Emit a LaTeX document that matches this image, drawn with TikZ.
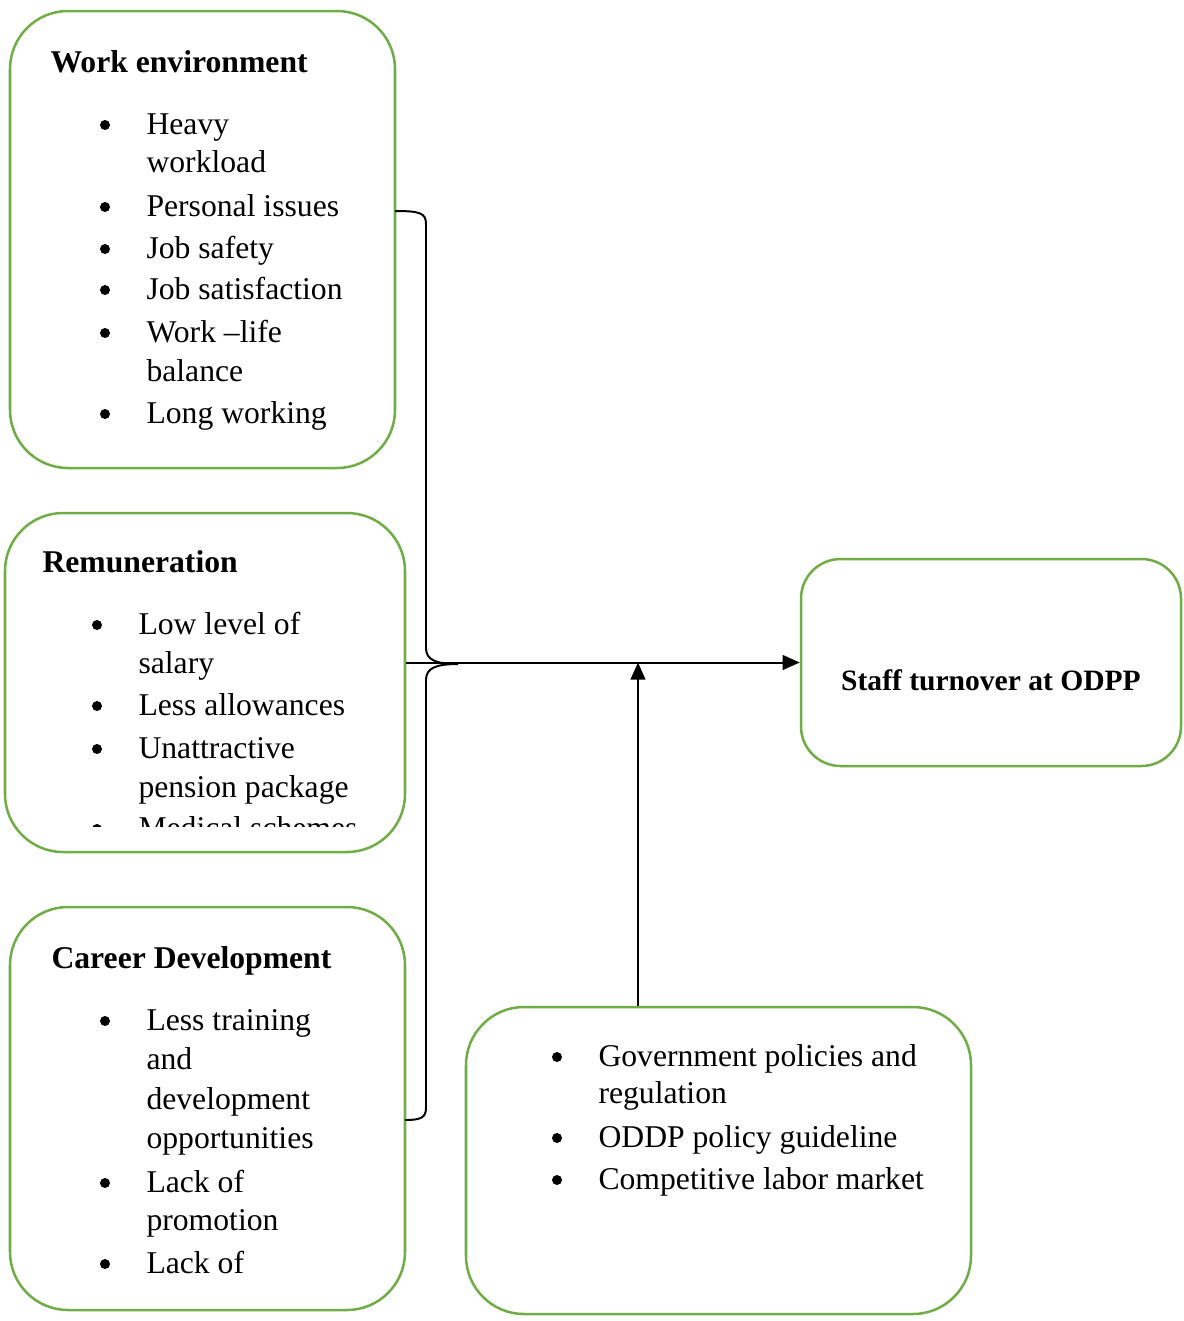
\documentclass[tikz,border=0pt]{standalone}
\usepackage{fontspec}
\setmainfont{Liberation Serif}
\usepackage{tikz}
\usetikzlibrary{arrows.meta,fit}

\definecolor{boxgreen}{RGB}{112,173,71}
\tikzset{
  factor/.style={draw=boxgreen, line width=0.95pt, rounded corners=22pt, inner sep=0pt},
  heading/.style={anchor=base west, inner sep=0pt, font=\fontsize{12}{14}\selectfont\bfseries},
  entry/.style={anchor=base west, inner sep=0pt},
  flow/.style={line width=0.75pt, -{Triangle[length=6.5pt,width=5.6pt]}},
  brace/.style={line width=0.75pt},
}

\begin{document}
\begin{tikzpicture}[x=0.379pt, y=-0.379pt, font=\fontsize{12}{14}\selectfont]
  \useasboundingbox (0,0) rectangle (1184,1321);

  % boxes
  \coordinate (w1) at (10,11);    \coordinate (w2) at (395,468);
  \coordinate (r1) at (5,513);    \coordinate (r2) at (405,852);
  \coordinate (c1) at (10,907);   \coordinate (c2) at (405,1310);
  \coordinate (e1) at (466,1007); \coordinate (e2) at (971,1314);
  \coordinate (s1) at (801,559);  \coordinate (s2) at (1181,766);
  \node[factor, fit=(w1)(w2)] (work) {};
  \node[factor, fit=(r1)(r2)] (rem) {};
  \node[factor, fit=(c1)(c2)] (career) {};
  \node[factor, fit=(e1)(e2)] (ext) {};
  \node[factor, fit=(s1)(s2), rounded corners=15pt] (staff) {};

  % work environment
  \node[heading] (work-h) at (50,72) {Work environment};
  \foreach \y/\t [count=\i] in {134/Heavy, 172/workload, 216/Personal issues, 258/Job safety,
      299/Job satisfaction, 342/Work --life, 381/balance, 423/Long working}
    \node[entry] (work-\i) at (146,\y) {\t};
  \foreach \y in {125,207,249,290,333,414} \fill (105,\y) circle (5);

  % remuneration
  \node[heading] (rem-h) at (42,572) {Remuneration};
  \begin{scope}
    \clip (0,0) rectangle (1184,826);
    \foreach \y/\t [count=\i] in {634/Low level of, 673/salary, 715/Less allowances,
        758/Unattractive, 797/pension package, 838/Medical schemes}
      \node[entry] (rem-\i) at (138,\y) {\t};
    \foreach \y in {625,706,749,829} \fill (97,\y) circle (5);
  \end{scope}

  % career development
  \node[heading] (career-h) at (51,968) {Career Development};
  \foreach \y/\t [count=\i] in {1030/Less training, 1069/and, 1109/development, 1148/opportunities,
      1192/Lack of, 1230/promotion, 1273/Lack of}
    \node[entry] (career-\i) at (146,\y) {\t};
  \foreach \y in {1021,1183,1264} \fill (105,\y) circle (5);

  % external factors
  \foreach \y/\t [count=\i] in {1066/Government policies and, 1103/regulation,
      1147/ODDP policy guideline, 1189/Competitive labor market}
    \node[entry] (ext-\i) at (598,\y) {\t};
  \foreach \y in {1057,1138,1180} \fill (557,\y) circle (5);

  % outcome
  \node[anchor=base, inner sep=0pt, font=\fontsize{11.2}{13}\selectfont\bfseries] (staff-t) at (991,690) {Staff turnover at ODPP};

  % brace and arrows
  \coordinate (btop) at (395,211);
  \coordinate (bbot) at (405,1120);
  \coordinate (meet) at (638,0);
  \draw[brace] (btop) .. controls (420,211) and (426,213) .. (426,224) -- (426,648)
    .. controls (426,660) and (436,664) .. (458,664);
  \draw[brace] (bbot) .. controls (420,1120) and (426,1118) .. (426,1108) -- (426,680)
    .. controls (426,668) and (436,664) .. (458,664);
  \draw[flow] (rem.east |- staff.west) -- (staff.west);
  \draw[flow] (ext.north -| meet) -- (meet |- staff.west);
\end{tikzpicture}
\end{document}
